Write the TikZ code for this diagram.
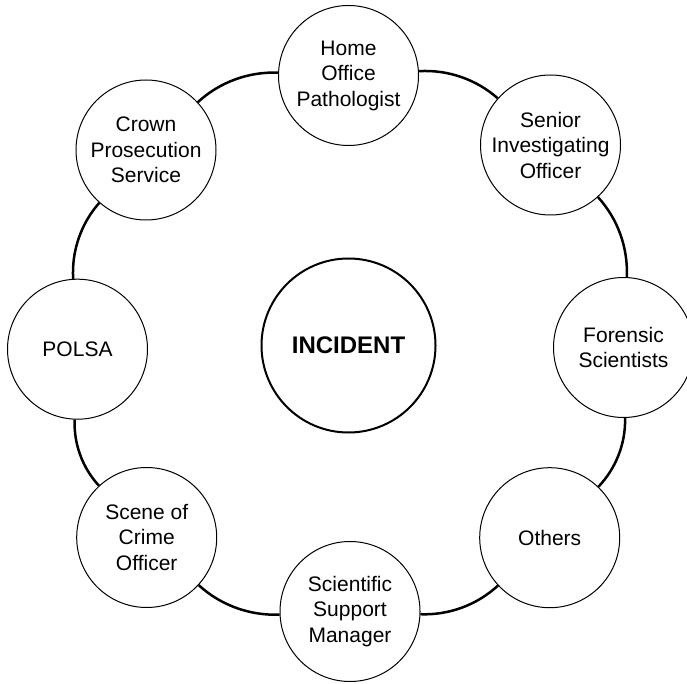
\documentclass[tikz,border=0pt]{standalone}
\usepackage{fontspec}
\setmainfont{Liberation Sans}
\begin{document}
\begin{tikzpicture}[x=1pt,y=1pt,
  role/.style={circle,draw,line width=1pt,minimum size=140pt,inner sep=0pt,
    align=center,fill=white,font=\fontsize{21}{25.5}\selectfont},
  hub/.style={circle,draw,line width=2pt,minimum size=174pt,inner sep=0pt,
    font=\fontsize{24}{28}\selectfont\bfseries},
  ring/.style={line width=2.5pt,bend left=22.5,looseness=0.885}]
\useasboundingbox (0,0) rectangle (687,683);

% central hub
\node[hub] (incident) at (348.5,337.5) {INCIDENT};

% roles arranged around the hub, clockwise from the top
\node[role] (home)   at (348.5,607.5) {Home\\Office\\Pathologist};
\node[role] (senior) at (550.5,538)   {Senior\\Investigating\\Officer};
\node[role] (foren)  at (623.5,335.5) {Forensic\\Scientists};
\node[role] (others) at (549.7,145.3) {Others};
\node[role] (ssm)    at (350,71.5)    {Scientific\\Support\\Manager};
\node[role] (soco)   at (146.7,145.5) {Scene of\\Crime\\Officer};
\node[role] (polsa)  at (77.5,333.8)  {POLSA};
\node[role] (cps)    at (146,533)     {Crown\\Prosecution\\Service};

% outer ring linking neighbouring roles
\draw[ring] (home) to (senior);
\draw[ring] (senior) to (foren);
\draw[ring] (foren) to (others);
\draw[ring] (others) to (ssm);
\draw[ring] (ssm) to (soco);
\draw[ring] (soco) to (polsa);
\draw[ring] (polsa) to (cps);
\draw[ring] (cps) to (home);
\end{tikzpicture}
\end{document}
